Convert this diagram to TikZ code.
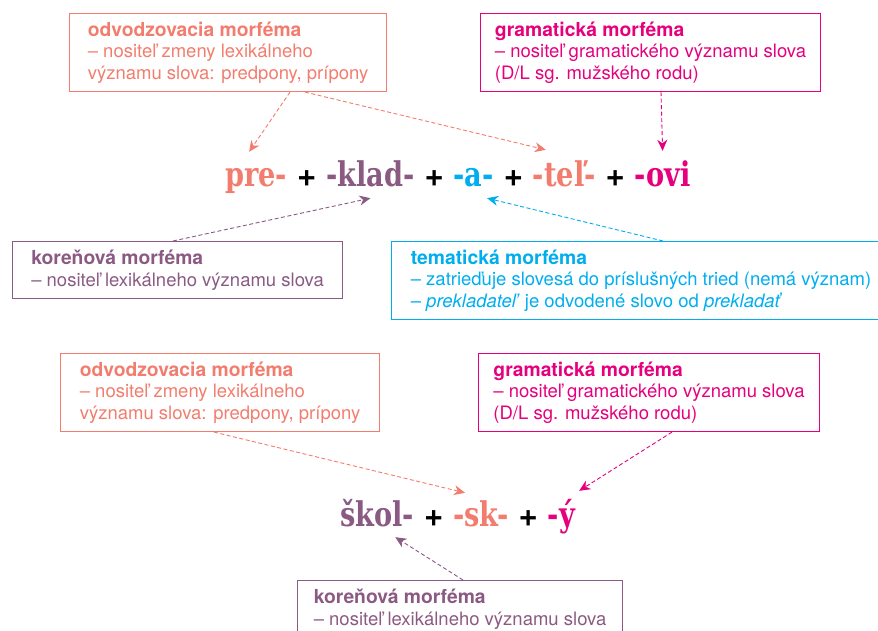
\documentclass[tikz,border=0pt]{standalone}
\usepackage{fontspec}
\setmainfont{TeX Gyre Heros}
\newfontfamily\slovofont[FakeStretch=0.8]{DejaVu Serif}
\usetikzlibrary{arrows.meta,positioning,calc}
\definecolor{odvcol}{RGB}{242,125,110}
\definecolor{gramcol}{RGB}{230,0,126}
\definecolor{korcol}{RGB}{139,90,131}
\definecolor{temcol}{RGB}{0,174,239}
\newcommand{\morfname}[1]{{\fontsize{19.3}{21.5}\selectfont\bfseries #1}}
\tikzset{
  morfbox/.style = {draw, line width=1.1pt, anchor=north west, align=left,
  inner sep=0pt, font=\fontsize{18.5}{21.5}\selectfont},
  box3/.style = {morfbox, minimum height=78pt},
  box2/.style = {morfbox, minimum height=57pt},
  wordpart/.style = {inner sep=0pt, text height=24pt, text depth=6pt,
  font=\slovofont\bfseries\fontsize{34}{34}\selectfont},
  plus/.style = {inner sep=0pt, text height=24pt, text depth=6pt,
  font=\bfseries\fontsize{33}{33}\selectfont},
  pointer/.style = {-{Stealth[length=11pt,width=10pt,inset=3.5pt]},
  line width=0.9pt, dash pattern=on 4pt off 2.5pt}
}

\begin{document}
\begin{tikzpicture}[x=1pt,y=1pt]
\useasboundingbox (0,0) rectangle (878,631);

% first word: prekladatel
    \begin{scope}[node distance=9.5pt]
      \node[wordpart, text=odvcol, anchor=base west] (pre) at (225,444) {pre-};
      \node[plus, base right=of pre] (plus1) {+};
      \node[wordpart, text=korcol, base right=of plus1] (klad) {-klad-};
      \node[plus, base right=of klad] (plus2) {+};
      \node[wordpart, text=temcol, base right=of plus2] (a) {-a-};
      \node[plus, base right=of a] (plus3) {+};
      \node[wordpart, text=odvcol, base right=of plus3] (tel) {-teľ-};
      \node[plus, base right=of tel] (plus4) {+};
      \node[wordpart, text=gramcol, base right=of plus4] (ovi) {-ovi};
    \end{scope}

% boxes around the first word
    \node[box3, color=odvcol, minimum width=317pt] (odv1) at (69,618)
      {\morfname{odvodzovacia morféma}\\ – nositeľ zmeny lexikálneho\\ významu slova: predpony, prípony};
    \node[box3, color=gramcol, minimum width=340pt] (gram1) at (480,618)
      {\morfname{gramatická morféma}\\ – nositeľ gramatického významu slova\\ (D/L sg. mužského rodu)};
    \node[box2, color=korcol, minimum width=330pt] (kor1) at (12,390)
      {\morfname{koreňová morféma}\\ – nositeľ lexikálneho významu slova};
    \node[box3, color=temcol, minimum width=499pt] (tem1) at (391,390)
      {\morfname{tematická morféma}\\ – zatrieďuje slovesá do príslušných tried (nemá význam)\\
       – \textit{prekladateľ} je odvodené slovo od \textit{prekladať}};

    \draw[pointer, odvcol] ($(odv1.south west)+(221,0)$) -- ($(pre.north)+(-7,11)$);
    \draw[pointer, odvcol] ($(odv1.south west)+(236,0)$) -- ($(tel.north west)+(13,13)$);
    \draw[pointer, gramcol] ($(gram1.south west)+(181,0)$) -- ($(ovi.north)+(0,12)$);
    \draw[pointer, korcol] ($(kor1.north west)+(161,0)$) -- ($(klad.south)+(0,-5)$);
    \draw[pointer, temcol] ($(tem1.north west)+(272,0)$) -- ($(a.south east)+(-7,-5)$);

% second word: skolsky
    \begin{scope}[node distance=9.5pt]
      \node[wordpart, text=korcol, anchor=base west] (skol) at (340,104) {škol-};
      \node[plus, base right=of skol] (plus5) {+};
      \node[wordpart, text=odvcol, base right=of plus5] (sk) {-sk-};
      \node[plus, base right=of sk] (plus6) {+};
      \node[wordpart, text=gramcol, base right=of plus6] (y) {-ý};
    \end{scope}

% boxes around the second word
    \node[box3, color=odvcol, minimum width=319pt] (odv2) at (60,278)
      {\morfname{odvodzovacia morféma}\\ – nositeľ zmeny lexikálneho\\ významu slova: predpony, prípony};
    \node[box3, color=gramcol, minimum width=341pt] (gram2) at (478,278)
      {\morfname{gramatická morféma}\\ – nositeľ gramatického významu slova\\ (D/L sg. mužského rodu)};
    \node[box2, color=korcol, minimum width=325pt] (kor2) at (297,51)
      {\morfname{koreňová morféma}\\ – nositeľ lexikálneho významu slova};

    \draw[pointer, odvcol] ($(odv2.south west)+(154,0)$) -- ($(sk.north west)+(12,10)$);
    \draw[pointer, gramcol] ($(gram2.south west)+(194,0)$) -- ($(y.north east)+(4,12)$);
    \draw[pointer, korcol] ($(kor2.north west)+(166,0)$) -- ($(skol.south east)+(-19,-4)$);
\end{tikzpicture}
\end{document}
